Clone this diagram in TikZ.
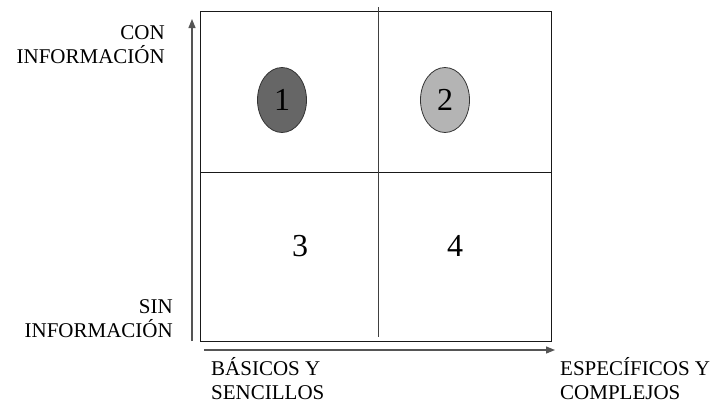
\documentclass[tikz,border=0pt]{standalone}
\usepackage{fontspec}
\setmainfont{Liberation Serif}
\usetikzlibrary{shapes.geometric,arrows.meta}
\definecolor{darkfill}{HTML}{666666}
\definecolor{lightfill}{HTML}{B4B4B4}
\definecolor{axisgray}{HTML}{555555}
\begin{document}
\begin{tikzpicture}[x=1pt,y=-1pt,
  lbl/.style={font=\fontsize{21}{24}\selectfont, inner sep=0pt},
  digit/.style={font=\fontsize{32}{36}\selectfont, inner sep=0pt},
  blob/.style={ellipse, draw=black!80, line width=0.8pt, minimum width=49pt, minimum height=65pt, inner sep=0pt, font=\fontsize{32}{36}\selectfont},
  boxline/.style={draw=black!90, line width=1pt},
  midline/.style={draw=black!75, line width=0.9pt},
  axis/.style={draw=axisgray, line width=1.2pt, -{Triangle[length=9pt,width=7pt]}}]
\useasboundingbox (0,0) rectangle (718,405);
\fill[white] (0,0) rectangle (718,405);
% frame
\node[boxline, rectangle, minimum width=351pt, minimum height=330pt, inner sep=0pt] (frame) at (375.5,176) {};
\coordinate (hl) at (200,172);
\coordinate (hr) at (551,172);
\coordinate (vt) at (378,7);
\coordinate (vb) at (378,337);
\draw[boxline] (hl) -- (hr);
\draw[midline] (vt) -- (vb);
% axes
\coordinate (ya0) at (192,341);
\coordinate (ya1) at (192,19);
\coordinate (xa0) at (204,350);
\coordinate (xa1) at (555,350);
\draw[axis] (ya0) -- (ya1);
\draw[axis] (xa0) -- (xa1);
% ellipses
\node[blob, fill=darkfill] (q1) at (282,100) {1};
\node[blob, fill=lightfill] (q2) at (445,100) {2};
\node[digit] (q3) at (300,246) {3};
\node[digit] (q4) at (455,246) {4};
% labels
\node[lbl, align=right, anchor=base east] (con) at (165,63) {CON\\INFORMACIÓN};
\node[lbl, align=right, anchor=base east] (sin) at (173,337) {SIN\\INFORMACIÓN};
\node[lbl, align=left, anchor=base west] (bas) at (211,399) {BÁSICOS Y\\SENCILLOS};
\node[lbl, align=left, anchor=base west] (esp) at (560,399) {ESPECÍFICOS Y\\COMPLEJOS};
\end{tikzpicture}
\end{document}
